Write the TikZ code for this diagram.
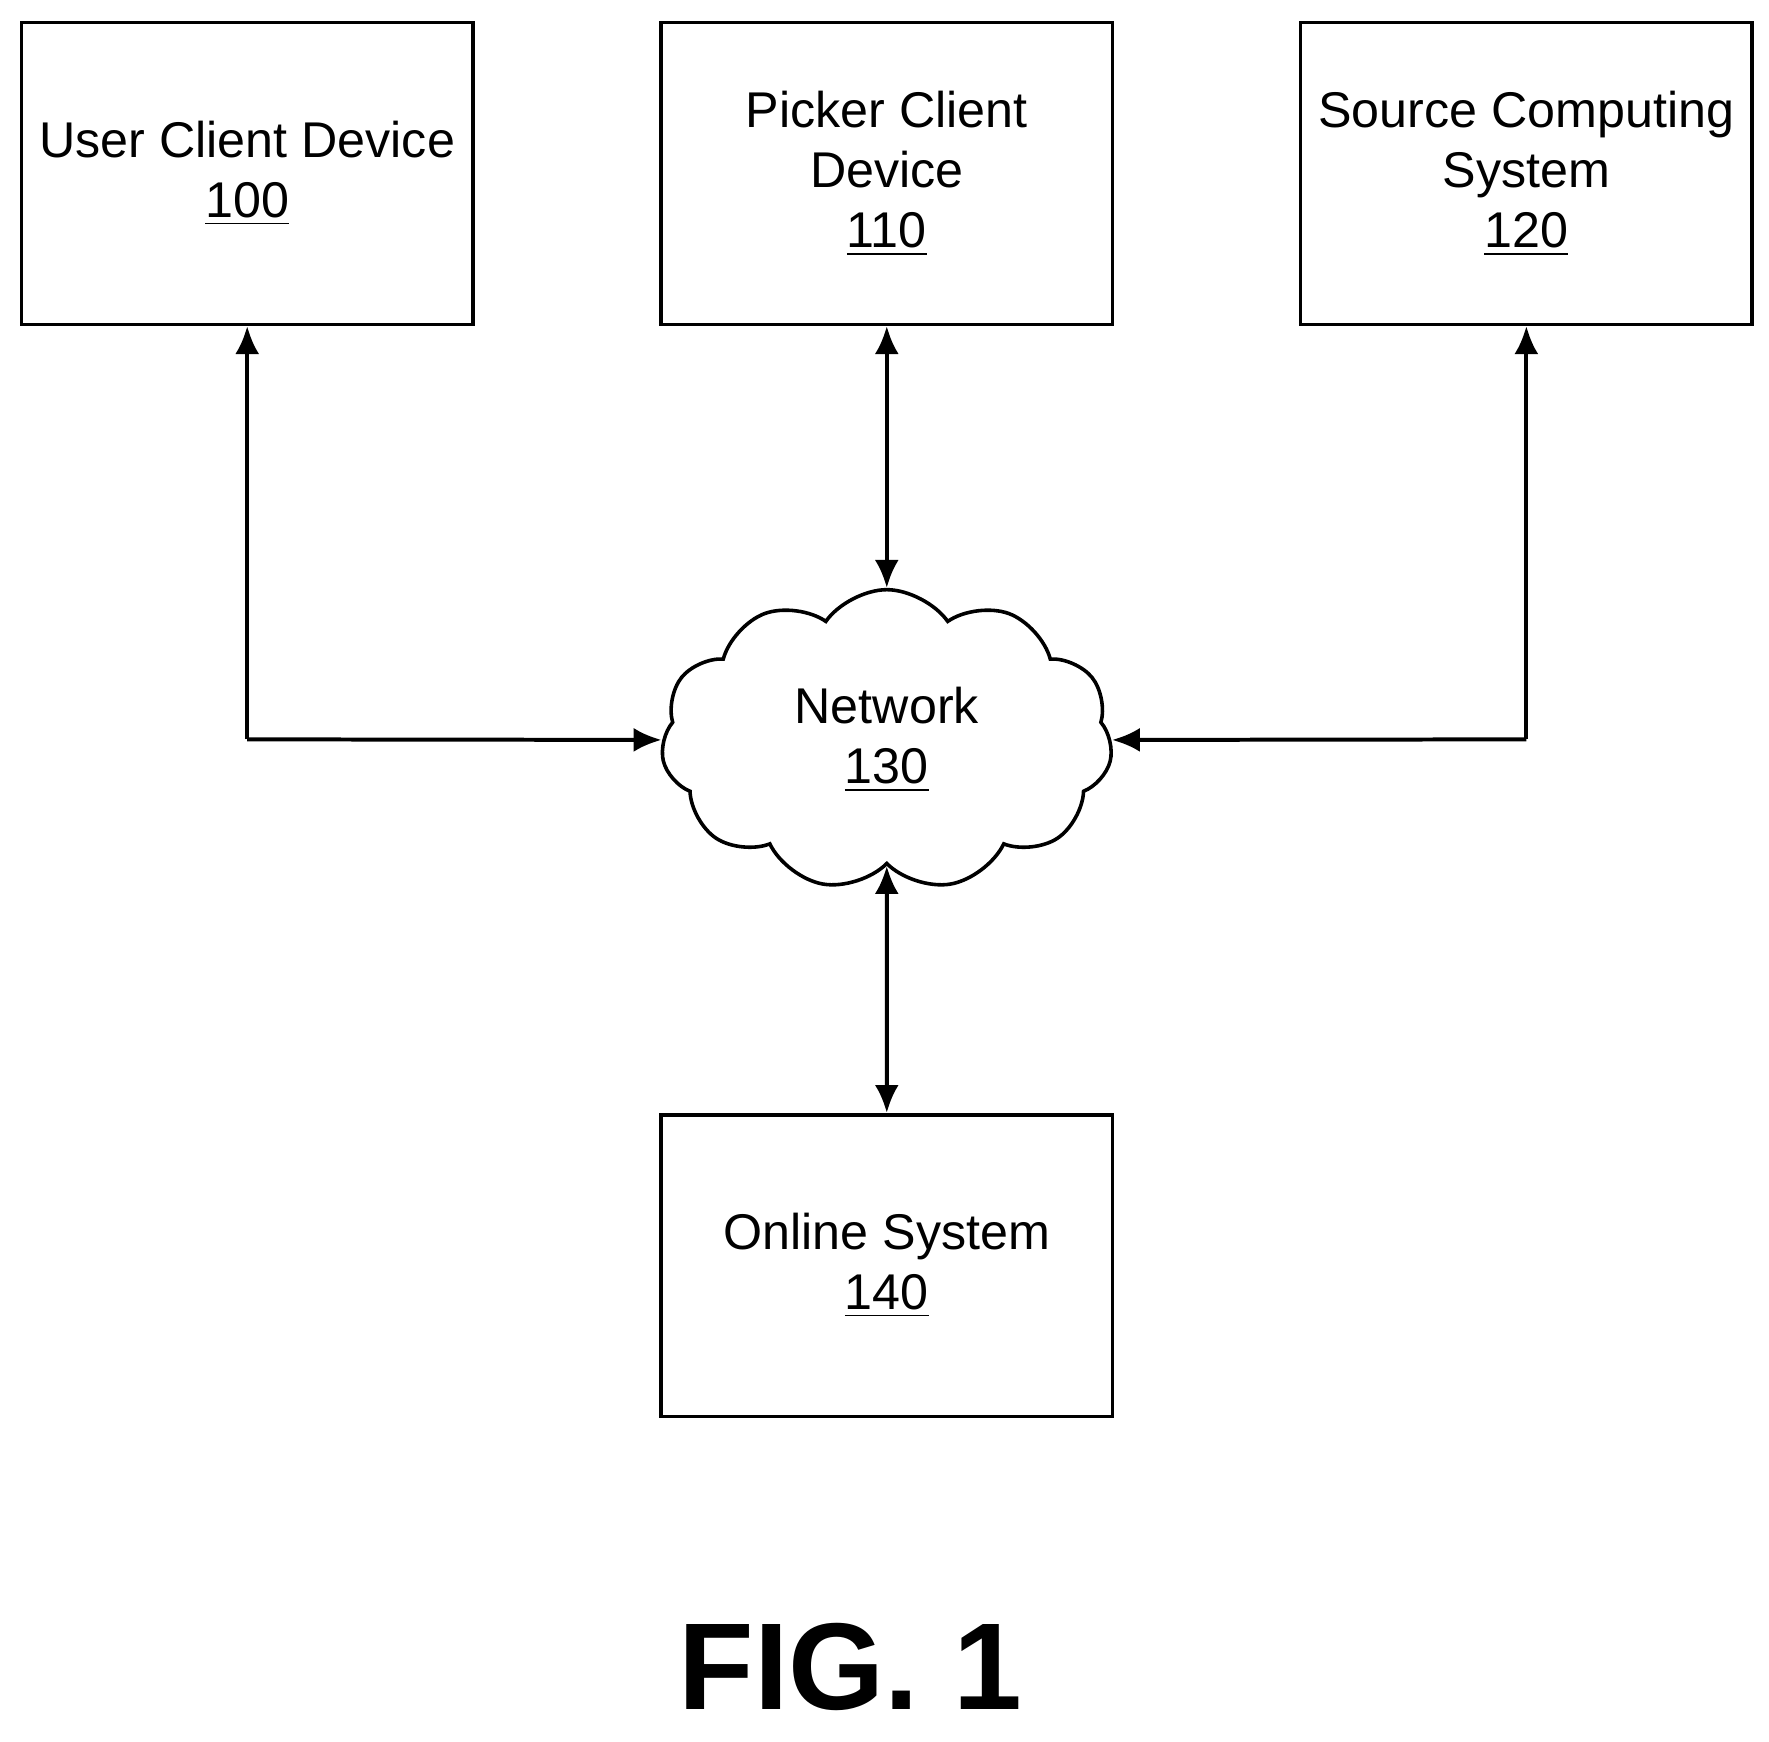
\documentclass[tikz,border=0pt]{standalone}
\usepackage{fontspec}
\setmainfont{Liberation Sans}
\usetikzlibrary{shapes.symbols,arrows.meta}
\begin{document}
\begin{tikzpicture}[x=1cm,y=1cm]
	\tikzset{box/.style={draw, line width=0.9pt, minimum width=3.98cm, minimum height=2.66cm, align=center, font=\fontsize{12.6}{15.1}\selectfont, inner sep=0pt},
		link/.style={line width=1pt, {Latex[length=7pt,width=6pt]}-{Latex[length=7pt,width=6pt]}},
		oneway/.style={line width=1pt, -{Latex[length=7pt,width=6pt]}}}
	\useasboundingbox (0,0) rectangle (15.6,-15.36);
	\node [box] (user) at (2.18,-1.53) {User Client Device\\\underline{100}};
	\node [box] (picker) at (7.82,-1.53) {Picker Client\\Device\\\underline{110}};
	\node [box] (source) at (13.46,-1.53) {Source Computing\\System\\\underline{120}};
	\node [draw, cloud, cloud puffs=11, cloud puff arc=110, aspect=1.5, line width=0.9pt, minimum width=3.98cm, minimum height=2.65cm, align=center, font=\fontsize{12.6}{15.1}\selectfont] (net) at (7.82,-6.525) {Network\\\underline{130}};
	\node [box] (online) at (7.82,-11.16) {Online System\\\underline{140}};
	\node [font=\fontsize{31}{35}\selectfont\bfseries] (fig) at (7.5,-14.7) {FIG. 1};
	\coordinate (ucorner) at (2.18,-6.52);
	\coordinate (scorner) at (13.46,-6.52);
	\draw [oneway] (ucorner) -- (user.south);
	\draw [oneway] (ucorner) -- (net.west);
	\draw [oneway] (scorner) -- (source.south);
	\draw [oneway] (scorner) -- (net.east);
	\draw [link] (picker.south) -- (net.north);
	\draw [link] (net.south) -- (online.north);
\end{tikzpicture}
\end{document}
